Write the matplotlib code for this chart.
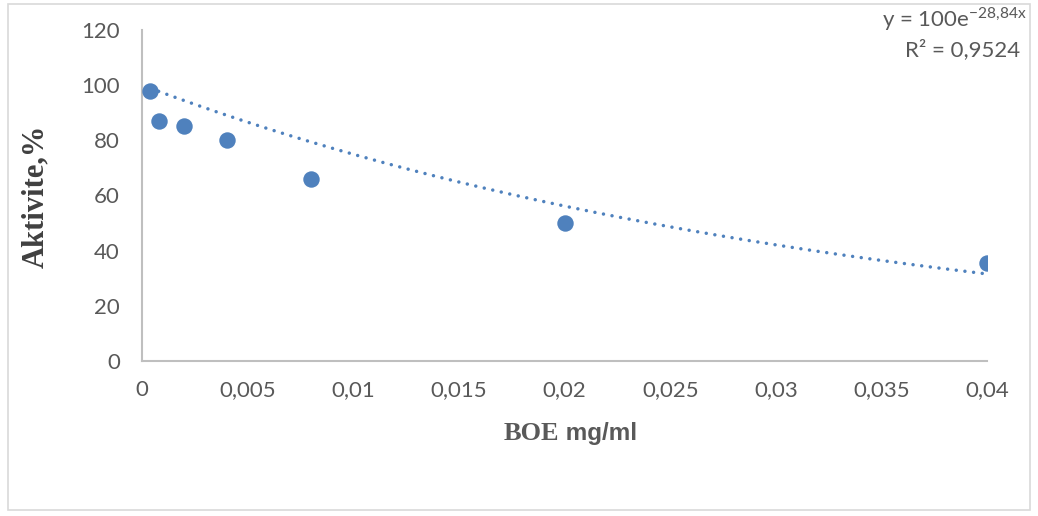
import numpy as np
import matplotlib
matplotlib.use("Agg")
import matplotlib.pyplot as plt
from matplotlib.patches import Rectangle

plt.rcParams["mathtext.fontset"] = "custom"
plt.rcParams["mathtext.rm"] = "Lato"

# BOE concentration (mg/ml) and remaining enzyme activity (%)
boe_conc = [0.0004, 0.0008, 0.002, 0.004, 0.008, 0.02, 0.04]
activity = [98, 87, 85.2, 80.1, 65.8, 50, 35.5]

# exponential trend line y = a * exp(b x)
fit_a = 100
fit_b = -28.84
r_squared = "0,9524"

x_ticks = [0, 0.005, 0.01, 0.015, 0.02, 0.025, 0.03, 0.035, 0.04]
x_tick_labels = ["0", "0,005", "0,01", "0,015", "0,02", "0,025", "0,03", "0,035", "0,04"]
y_ticks = [0, 20, 40, 60, 80, 100, 120]

point_color = "#4f81bd"
tick_color = "#595959"
axis_color = "#bfbfbf"

fig = plt.figure(figsize=(10.38, 5.16), dpi=100)
ax = fig.add_axes([0.1368, 0.3004, 0.8142, 0.6415])

# chart outline
fig.patches.append(Rectangle((0.008, 0.012), 0.984, 0.98, transform=fig.transFigure,
                             fill=False, edgecolor="#d9d9d9", linewidth=1.2))

xs = np.linspace(min(boe_conc), max(boe_conc), 300)
ax.plot(xs, fit_a * np.exp(fit_b * xs), linestyle=(0, (0.01, 2.5)), color=point_color,
        linewidth=2.5, dash_capstyle="round", zorder=2)
ax.scatter(boe_conc, activity, s=140, color=point_color, zorder=3, linewidths=0)

ax.set_xlim(0, 0.04)
ax.set_ylim(0, 120)
ax.set_xticks(x_ticks)
ax.set_xticklabels(x_tick_labels)
ax.set_yticks(y_ticks)
for lbl in ax.get_xticklabels() + ax.get_yticklabels():
    lbl.set_fontfamily("Lato")
ax.tick_params(length=0, labelsize=16, colors=tick_color)
ax.tick_params(axis="x", pad=14)
ax.tick_params(axis="y", pad=16)

for side in ["top", "right"]:
    ax.spines[side].set_visible(False)
for side in ["left", "bottom"]:
    ax.spines[side].set_color(axis_color)
    ax.spines[side].set_linewidth(1.5)

# x label: serif "BOE" followed by sans "mg/ml"
fig.text(0.5385, 0.160, "BOE", fontfamily="Liberation Serif", fontweight="bold",
         fontsize=19, color=tick_color, ha="right", va="center")
fig.text(0.5385, 0.160, " mg/ml", fontfamily="Liberation Sans", fontweight="bold",
         fontsize=17.5, color=tick_color, ha="left", va="center")

fig.text(0.0345, 0.6204, "Aktivite,%", fontfamily="Liberation Serif", fontweight="bold",
         fontsize=22, color="#404040", rotation=90, ha="center", va="center")

fig.text(0.989, 0.948, r"y = 100e$^{\mathrm{-28{,}84x}}$", fontfamily="Lato",
         ha="right", va="baseline", fontsize=16, color=tick_color)
fig.text(0.9275, 0.903, "R² = " + r_squared, fontfamily="Lato",
         ha="center", va="center", fontsize=16, color=tick_color)

fig.savefig("out.png", dpi=100)
